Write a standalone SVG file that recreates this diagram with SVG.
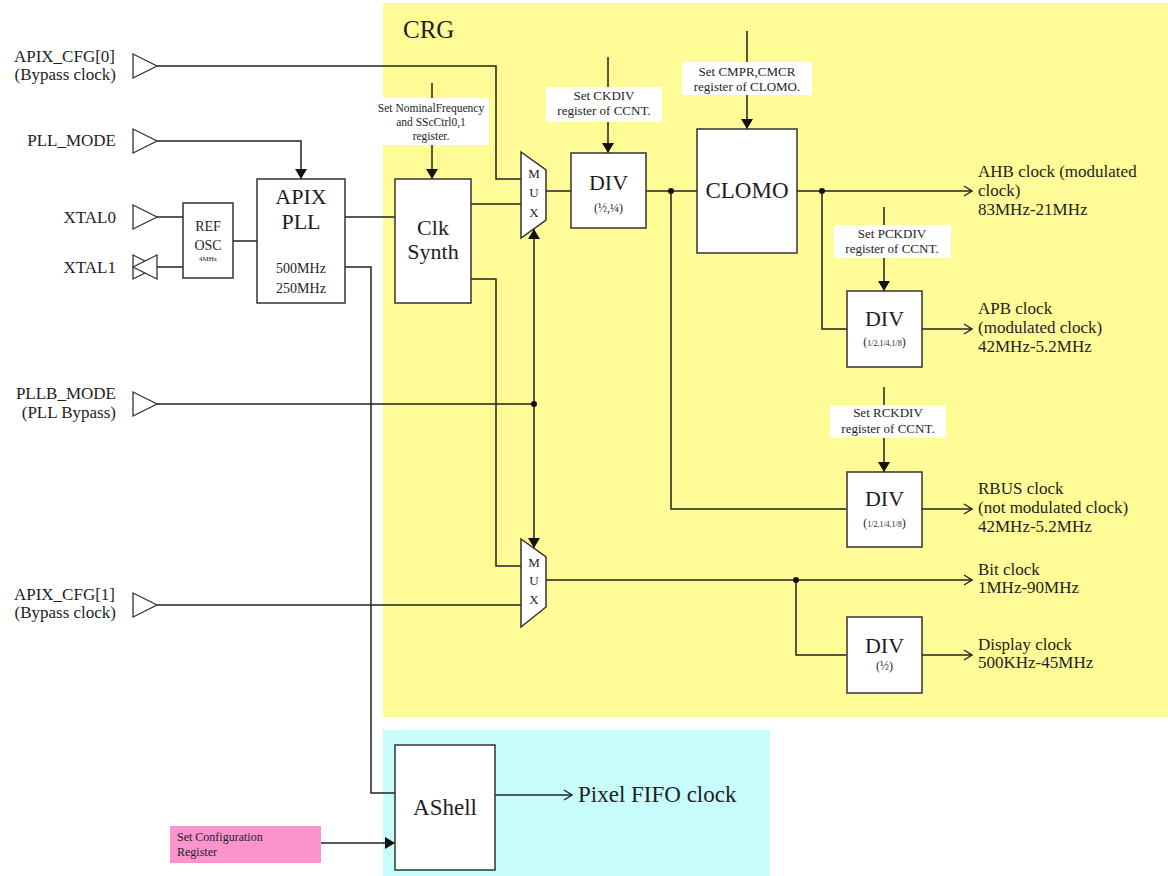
<svg xmlns="http://www.w3.org/2000/svg" width="1168" height="876" viewBox="0 0 1168 876" font-family="'Liberation Serif','DejaVu Serif',serif">
<defs>
<style>
text{font-family:"Liberation Serif","DejaVu Serif",serif;fill:#1e1e1e}
.blk{fill:#fff;stroke:#333;stroke-width:1.5}
.pad{fill:#fff;stroke:#333;stroke-width:1.3}
.note{fill:#fff;stroke:none}
.w{fill:none;stroke:#222;stroke-width:1.5}
.fa{marker-end:url(#fa)}
.oa{marker-end:url(#oa)}
.lbl{font-size:17px}
.big{font-size:22px}
.n13{font-size:13px}
.mux{font-size:13px;text-anchor:middle}
.c{text-anchor:middle}
.e{text-anchor:end}
</style>
<marker id="fa" markerWidth="10" markerHeight="12" refX="10" refY="6" orient="auto" markerUnits="userSpaceOnUse" viewBox="0 0 10 12">
<path d="M0,0 L10,6 L0,12 z" fill="#111"/>
</marker>
<marker id="oa" markerWidth="10" markerHeight="12" refX="9" refY="6" orient="auto" markerUnits="userSpaceOnUse" viewBox="0 0 10 12">
<path d="M1,1 L9,6 L1,11" fill="none" stroke="#222" stroke-width="1.4"/>
</marker>
</defs>
<rect width="1168" height="876" fill="#fff"/>
<g id="crg-region">
<rect x="383" y="3" width="785" height="714" fill="#fffb97"/>
<text x="403" y="38" style="font-size:25px">CRG</text>
</g>
<g id="ashell-region">
<rect x="383" y="730" width="387" height="146" fill="#c8fdfd"/>
</g>

<g id="connectors">
<path class="w" d="M157,66 H496 V179 H521"/>
<path class="w fa" d="M157,141 H301 V179"/>
<path class="w" d="M157,217 H183"/>
<path class="w" d="M145,267 H183"/>
<path class="w" d="M233,241 H257"/>
<path class="w" d="M345,217 H395"/>
<path class="w" d="M345,267 H371 V793 H395"/>
<path class="w" d="M471,204 H521"/>
<path class="w" d="M546,191 H571"/>
<path class="w fa" d="M432,83 V179"/>
<path class="w fa" d="M608,57 V153"/>
<path class="w" d="M646,191 H697"/>
<path class="w" d="M671,191 V509 H846"/>
<path class="w fa" d="M747,31 V129"/>
<path class="w oa" d="M797,191 H972"/>
<path class="w" d="M822,191 V329 H847"/>
<path class="w fa" d="M884,207 V291"/>
<path class="w oa" d="M922,329 H972"/>
<path class="w fa" d="M884,387 V472"/>
<path class="w oa" d="M922,509 H972"/>
<path class="w" d="M157,404 H534"/>
<path class="w fa" d="M534,404 V229"/>
<path class="w fa" d="M534,404 V548"/>
<path class="w" d="M471,279 H496 V566 H521"/>
<path class="w" d="M157,605 H521"/>
<path class="w oa" d="M546,580 H972"/>
<path class="w" d="M796,580 V655 H846"/>
<path class="w oa" d="M922,655 H972"/>
<path class="w oa" d="M495,795 H572"/>
<path class="w fa" d="M321,843 H395"/>
<circle cx="671" cy="191" r="3" fill="#111"/>
<circle cx="822" cy="191" r="3" fill="#111"/>
<circle cx="534" cy="404" r="3" fill="#111"/>
<circle cx="796" cy="580" r="3" fill="#111"/>
</g>

<g id="in-apix-cfg0">
<polygon class="pad" points="133,54 157,66 133,78"/>
<text class="lbl e" x="115" y="62">APIX_CFG[0]</text>
<text class="lbl e" x="116" y="80">(Bypass clock)</text>
</g>
<g id="in-pll-mode">
<polygon class="pad" points="133,129 157,141 133,153"/>
<text class="lbl e" x="116" y="146">PLL_MODE</text>
</g>
<g id="in-xtal0">
<polygon class="pad" points="133,205 157,217 133,229"/>
<text class="lbl e" x="116" y="223">XTAL0</text>
</g>
<g id="in-xtal1">
<polygon class="pad" points="133,255 157,267 133,279"/>
<polygon class="pad" points="157,255 133,267 157,279" fill="none"/>
<text class="lbl e" x="116" y="273">XTAL1</text>
</g>
<g id="in-pllb-mode">
<polygon class="pad" points="133,392 157,404 133,416"/>
<text class="lbl e" x="116" y="399">PLLB_MODE</text>
<text class="lbl e" x="116" y="418">(PLL Bypass)</text>
</g>
<g id="in-apix-cfg1">
<polygon class="pad" points="133,593 157,605 133,617"/>
<text class="lbl e" x="115" y="600">APIX_CFG[1]</text>
<text class="lbl e" x="116" y="618">(Bypass clock)</text>
</g>

<g id="ref-osc">
<rect class="blk" x="183" y="203" width="50" height="75"/>
<text class="c" x="208" y="231" style="font-size:14px">REF</text>
<text class="c" x="208" y="250" style="font-size:14px">OSC</text>
<text class="c" x="208" y="261" style="font-size:7px">4MHz</text>
</g>
<g id="apix-pll">
<rect class="blk" x="257" y="179" width="88" height="124"/>
<text class="big c" x="301" y="204">APIX</text>
<text class="big c" x="301" y="229">PLL</text>
<text class="c" x="301" y="273" style="font-size:14px">500MHz</text>
<text class="c" x="301" y="293" style="font-size:14px">250MHz</text>
</g>
<g id="clk-synth">
<rect class="blk" x="395" y="179" width="76" height="124"/>
<text class="big c" x="433" y="235">Clk</text>
<text class="big c" x="433" y="259">Synth</text>
</g>
<g id="note-nominal">
<rect class="note" x="373" y="98" width="116" height="47"/>
<text class="c" x="431" y="112" style="font-size:11.5px">Set NominalFrequency</text>
<text class="c" x="431" y="126" style="font-size:11.5px">and SScCtrl0,1</text>
<text class="c" x="431" y="140" style="font-size:11.5px">register.</text>
</g>
<g id="mux1">
<polygon class="blk" points="521,152 546,170 546,220 521,238"/>
<text class="mux" x="534" y="178">M</text>
<text class="mux" x="534" y="197">U</text>
<text class="mux" x="534" y="217">X</text>
</g>
<g id="note-ckdiv">
<rect class="note" x="546" y="87" width="116" height="35"/>
<text class="n13 c" x="604" y="100">Set CKDIV</text>
<text class="n13 c" x="604" y="115">register of CCNT.</text>
</g>
<g id="div1">
<rect class="blk" x="571" y="153" width="75" height="75"/>
<text class="big c" x="608.5" y="190">DIV</text>
<text class="c" x="608.5" y="212" style="font-size:12px">(½,¼)</text>
</g>
<g id="note-cmpr">
<rect class="note" x="682" y="62" width="130" height="33"/>
<text class="n13 c" x="747" y="76">Set CMPR,CMCR</text>
<text class="n13 c" x="747" y="91">register of CLOMO.</text>
</g>
<g id="clomo">
<rect class="blk" x="697" y="129" width="100" height="124"/>
<text class="c" x="747" y="198" style="font-size:23px">CLOMO</text>
</g>
<g id="out-ahb">
<text class="lbl" x="978" y="177">AHB clock (modulated</text>
<text class="lbl" x="978" y="196">clock)</text>
<text class="lbl" x="978" y="215">83MHz-21MHz</text>
</g>
<g id="note-pckdiv">
<rect class="note" x="834" y="225" width="117" height="33"/>
<text class="n13 c" x="892" y="238">Set PCKDIV</text>
<text class="n13 c" x="892" y="253">register of CCNT.</text>
</g>
<g id="div2">
<rect class="blk" x="847" y="291" width="75" height="76"/>
<text class="big c" x="884.5" y="326">DIV</text>
<text class="c" x="884.5" y="346"><tspan style="font-size:12px">(</tspan><tspan style="font-size:8px">1/2,1/4,1/8</tspan><tspan style="font-size:12px">)</tspan></text>
</g>
<g id="out-apb">
<text class="lbl" x="978" y="314">APB clock</text>
<text class="lbl" x="978" y="333">(modulated clock)</text>
<text class="lbl" x="978" y="352">42MHz-5.2MHz</text>
</g>
<g id="note-rckdiv">
<rect class="note" x="830" y="405" width="116" height="33"/>
<text class="n13 c" x="888" y="417">Set RCKDIV</text>
<text class="n13 c" x="888" y="433">register of CCNT.</text>
</g>
<g id="div3">
<rect class="blk" x="847" y="472" width="75" height="75"/>
<text class="big c" x="884.5" y="506">DIV</text>
<text class="c" x="884.5" y="527"><tspan style="font-size:12px">(</tspan><tspan style="font-size:8px">1/2,1/4,1/8</tspan><tspan style="font-size:12px">)</tspan></text>
</g>
<g id="out-rbus">
<text class="lbl" x="978" y="494">RBUS clock</text>
<text class="lbl" x="978" y="513">(not modulated clock)</text>
<text class="lbl" x="978" y="532">42MHz-5.2MHz</text>
</g>
<g id="mux2">
<polygon class="blk" points="521,539 546,557 546,607 521,627"/>
<text class="mux" x="534" y="567">M</text>
<text class="mux" x="534" y="585">U</text>
<text class="mux" x="534" y="604">X</text>
</g>
<g id="out-bit">
<text class="lbl" x="978" y="575">Bit clock</text>
<text class="lbl" x="978" y="593">1MHz-90MHz</text>
</g>
<g id="div4">
<rect class="blk" x="847" y="617" width="75" height="76"/>
<text class="big c" x="884.5" y="653">DIV</text>
<text class="c" x="884.5" y="670" style="font-size:12px">(½)</text>
</g>
<g id="out-display">
<text class="lbl" x="978" y="650">Display clock</text>
<text class="lbl" x="978" y="668">500KHz-45MHz</text>
</g>
<g id="ashell">
<rect class="blk" x="395" y="745" width="100" height="125"/>
<text class="c" x="445" y="815" style="font-size:23px">AShell</text>
</g>
<g id="out-pixel">
<text x="578" y="802" style="font-size:23px">Pixel FIFO clock</text>
</g>
<g id="set-config">
<rect x="170" y="826" width="151" height="37" fill="#fb93cc"/>
<text x="177" y="841" style="font-size:12px">Set Configuration</text>
<text x="177" y="856" style="font-size:12px">Register</text>
</g>
</svg>
